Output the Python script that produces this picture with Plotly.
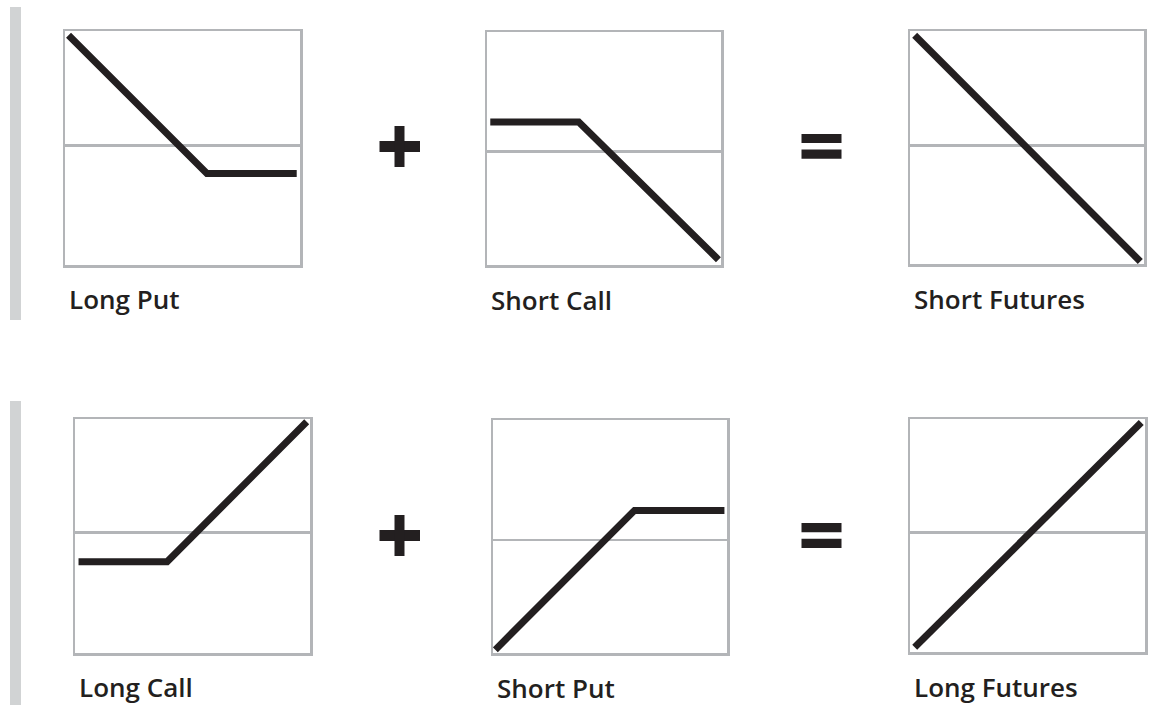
import plotly.graph_objects as go

W, H = 1149, 705

# ---- data (payoff diagrams: price on x, payoff on y) ----
titles = ["Long Put", "Short Call", "Short Futures",
          "Long Call", "Short Put", "Long Futures"]

long_put_x = [1.5, 60.4, 98.6]
long_put_y = [47.2, -11.9, -11.9]
short_call_x = [1.4, 39.2, 98.9]
short_call_y = [12.7, 12.7, -46.4]
short_fut_x = [2.0, 98.4]
short_fut_y = [47.3, -49.8]
long_call_x = [1.5, 39.2, 98.6]
long_call_y = [-12.4, -12.4, 47.4]
short_put_x = [1.0, 60.5, 98.9]
short_put_y = [-47.1, 12.7, 12.7]
long_fut_x = [2.0, 98.4]
long_fut_y = [-49.2, 47.3]

series_x = [long_put_x, short_call_x, short_fut_x, long_call_x, short_put_x, long_fut_x]
series_y = [long_put_y, short_call_y, short_fut_y, long_call_y, short_put_y, long_fut_y]

# layout: panel boxes in pixels (left, top, right, bottom) and y ranges
boxes = [(63, 29, 302, 267), (485, 30, 723, 267), (908, 29, 1146, 266),
         (73, 417, 312, 655), (491, 418, 729, 655), (908, 417, 1147, 654)]
yranges = [(-51, 49), (-48.7, 51.3), (-50.9, 49.1),
           (-51.4, 48.6), (-48.5, 51.5), (-51.2, 48.8)]

INK = "#231f20"
BOX = "#b3b5b8"
BAR = "#d1d3d4"

def px(x):
    return x / W

def py(y):
    return 1 - y / H

fig = go.Figure()
layout = dict(
    width=W, height=H,
    margin=dict(l=0, r=0, t=0, b=0),
    paper_bgcolor="white", plot_bgcolor="white",
    showlegend=False,
)

annotations = []
for i in range(6):
    n = "" if i == 0 else str(i + 1)
    l, t, r, b = boxes[i]
    fig.add_trace(go.Scatter(
        x=series_x[i], y=series_y[i], mode="lines",
        line=dict(color=INK, width=7),
        xaxis="x" + n, yaxis="y" + n, hoverinfo="skip",
    ))
    layout["xaxis" + n] = dict(
        domain=[px(l + 2), px(r - 2)], range=[0, 100], anchor="y" + n,
        showgrid=False, zeroline=False, showticklabels=False, ticks="",
        showline=True, mirror=True, linecolor=BOX, linewidth=2.5,
        fixedrange=True,
    )
    layout["yaxis" + n] = dict(
        domain=[py(b - 2), py(t + 2)], range=list(yranges[i]), anchor="x" + n,
        showgrid=False, zeroline=True, zerolinecolor=BOX, zerolinewidth=2.5,
        showticklabels=False, ticks="",
        showline=True, mirror=True, linecolor=BOX, linewidth=2.5,
        fixedrange=True,
    )
    annotations.append(dict(
        text=titles[i], xref="paper", yref="paper",
        x=px(l + 4), y=py(t + 270), xanchor="left", yanchor="middle",
        showarrow=False,
        font=dict(family="Open Sans", size=26, color=INK, weight=600),
    ))

shapes = []
# left grey bars
for (y0, y1) in [(7, 320), (401, 705)]:
    shapes.append(dict(type="rect", xref="paper", yref="paper",
                       x0=px(10), x1=px(21), y0=py(y1), y1=py(y0),
                       fillcolor=BAR, line=dict(width=0)))
# plus signs
for cy in [146.5, 535.5]:
    shapes.append(dict(type="rect", xref="paper", yref="paper",
                       x0=px(379.5), x1=px(420), y0=py(cy + 5.5), y1=py(cy - 5.5),
                       fillcolor=INK, line=dict(width=0)))
    shapes.append(dict(type="rect", xref="paper", yref="paper",
                       x0=px(394.5), x1=px(404.5), y0=py(cy + 20.5), y1=py(cy - 20.5),
                       fillcolor=INK, line=dict(width=0)))
# equals signs
for cy in [146.3, 535.5]:
    for off in (-7.8, 7.8):
        shapes.append(dict(type="rect", xref="paper", yref="paper",
                           x0=px(801.5), x1=px(841.5),
                           y0=py(cy + off + 4.6), y1=py(cy + off - 4.6),
                           fillcolor=INK, line=dict(width=0)))

layout["annotations"] = annotations
layout["shapes"] = shapes
fig.update_layout(**layout)
fig.write_html(
    "out.html",
    config={"displayModeBar": False, "staticPlot": True},
    post_script="document.body.style.margin='0';document.body.style.overflow='hidden';",
)
